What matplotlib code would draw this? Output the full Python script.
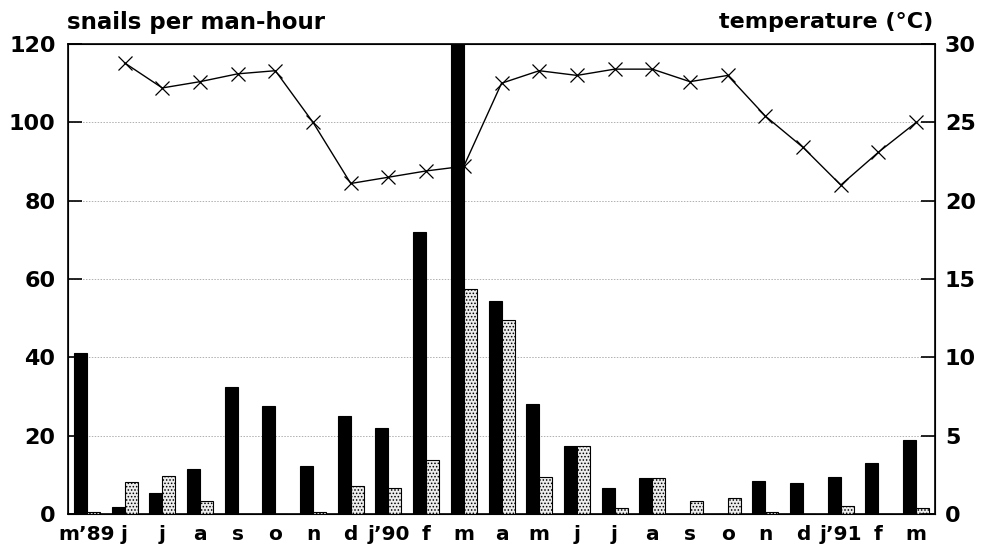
import matplotlib
matplotlib.use("Agg")
import matplotlib.pyplot as plt
import numpy as np

months = ["m’89", "j", "j", "a", "s", "o", "n", "d", "j’90", "f", "m",
          "a", "m", "j", "j", "a", "s", "o", "n", "d", "j’91", "f", "m"]
snails_black = [41.2, 1.8, 5.3, 11.4, 32.5, 27.6, 12.3, 25.0, 22.0, 72.0, 125.0,
                54.5, 28.0, 17.4, 6.6, 9.1, 0.0, 0.0, 8.5, 8.0, 9.5, 12.9, 18.9]
snails_grey = [0.6, 8.2, 9.8, 3.3, 0.0, 0.0, 0.5, 7.1, 6.7, 13.8, 57.4,
               49.5, 9.5, 17.4, 1.6, 9.1, 3.4, 4.0, 0.4, 0.0, 2.0, 0.0, 1.6]
temperature = [np.nan, 28.8, 27.2, 27.6, 28.1, 28.3, 25.0, 21.1, 21.5, 21.9, 22.2,
               27.5, 28.3, 28.0, 28.4, 28.4, 27.6, 28.0, 25.4, 23.4, 21.0, 23.1, 25.0]

plt.rcParams['font.family'] = ['DejaVu Sans']
plt.rcParams['hatch.color'] = '#808080'
plt.rcParams['hatch.linewidth'] = 0.7

fig = plt.figure(figsize=(9.83, 5.51), dpi=100)
ax = fig.add_axes([0.0692, 0.0672, 0.9512 - 0.0692, 0.920 - 0.0672])

x = np.arange(len(months))
w = 0.345
ax.bar(x - w / 2, snails_black, width=w, color='black', edgecolor='black', linewidth=0.8, zorder=3)
ax.bar(x + w / 2, snails_grey, width=w, facecolor='#ececec', edgecolor='black', linewidth=0.8,
       hatch='.....', zorder=3)

ax.set_xlim(-0.5, len(months) - 0.5)
ax.set_ylim(0, 120)
ax.set_yticks(np.arange(0, 121, 20))
ax.set_xticks(x)
ax.set_xticklabels(months)
ax.grid(axis='y', color='#b0b0b0', linestyle=(0, (1.5, 1.5)), linewidth=0.7, zorder=0)
ax.tick_params(axis='y', direction='in', length=10, width=1.2, labelsize=16, pad=9)
ax.tick_params(axis='x', length=0, labelsize=14.5, pad=8)
for lab in ax.get_xticklabels() + ax.get_yticklabels():
    lab.set_fontweight('bold')
for s in ax.spines.values():
    s.set_linewidth(1.2)

ax2 = ax.twinx()
ax2.set_ylim(0, 30)
ax2.set_yticks(np.arange(0, 31, 5))
ax2.plot(x, temperature, color='black', linewidth=1.0, marker='x', markersize=10,
         markeredgewidth=0.9, zorder=4)
ax2.tick_params(axis='y', direction='in', length=10, width=1.2, labelsize=16, pad=7)
for lab in ax2.get_yticklabels():
    lab.set_fontweight('bold')
ax2.set_xlim(-0.5, len(months) - 0.5)

fig.text(0.068, 0.948, "snails per man-hour", fontsize=16.5, fontweight='bold',
         ha='left', va='baseline')
fig.text(0.949, 0.950, "temperature (°C)", fontsize=16, fontweight='bold',
         ha='right', va='baseline')

fig.savefig("out.png", dpi=100)
